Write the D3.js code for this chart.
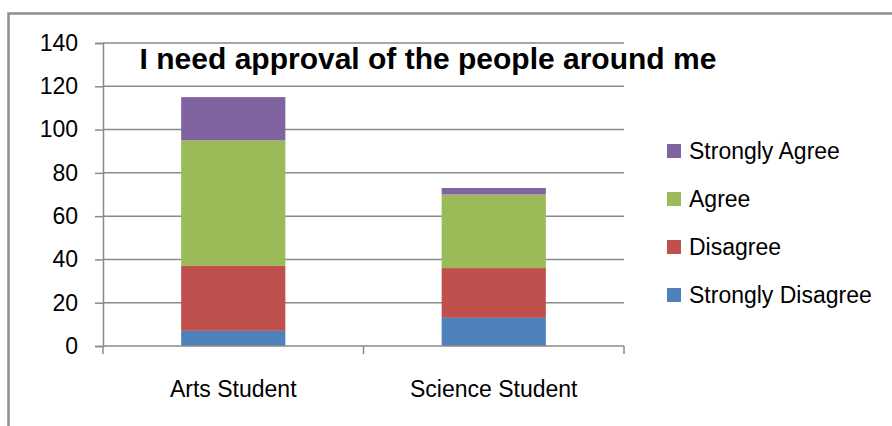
<!DOCTYPE html>
<html>
<head>
<meta charset="utf-8">
<script src="https://cdn.jsdelivr.net/npm/d3@7"></script>
<style>
  body { margin: 0; background: #fff; }
  text { font-family: "Liberation Sans", Arial, sans-serif; fill: #000; }
</style>
</head>
<body>
<svg id="chart" width="892" height="426"></svg>
<script>
// data
var categories = ["Arts Student", "Science Student"];
var seriesNames = ["Strongly Disagree", "Disagree", "Agree", "Strongly Agree"];
var stronglyDisagree = [7, 13];
var disagree = [30, 23];
var agree = [58, 34];
var stronglyAgree = [20, 3];
var yTicks = [0, 20, 40, 60, 80, 100, 120, 140];
var colors = ["#4F81BD", "#C0504D", "#9BBB59", "#8064A2"];

var rows = categories.map(function(c, i) {
  return {
    cat: c,
    "Strongly Disagree": stronglyDisagree[i],
    "Disagree": disagree[i],
    "Agree": agree[i],
    "Strongly Agree": stronglyAgree[i]
  };
});

var svg = d3.select("#chart");
// plot area edges (don't use "top", it's window.top)
var plotL = 103, plotR = 624, plotT = 43, plotB = 346;

// outer frame (runs off the right and bottom edges)
svg.append("rect")
  .attr("x", 8.5).attr("y", 13.5)
  .attr("width", 900).attr("height", 430)
  .attr("fill", "none").attr("stroke", "#8e8e8e").attr("stroke-width", 2.5);

var x = d3.scaleBand().domain(categories).range([plotL, plotR])
  .paddingInner(0.6).paddingOuter(0.3);
var y = d3.scaleLinear().domain([0, 140]).range([plotB, plotT]);

// gridlines
svg.append("g").selectAll("line")
  .data(yTicks.slice(1))
  .enter().append("line")
  .attr("x1", plotL).attr("x2", plotR)
  .attr("y1", function(d) { return y(d); })
  .attr("y2", function(d) { return y(d); })
  .attr("stroke", "#8a8a8a").attr("stroke-width", 1.5);

// stacked bars
var stack = d3.stack().keys(seriesNames);
var layers = stack(rows);

svg.append("g").selectAll("g")
  .data(layers)
  .enter().append("g")
  .attr("fill", function(d, i) { return colors[i]; })
  .selectAll("rect")
  .data(function(d) { return d; })
  .enter().append("rect")
  .attr("x", function(d) { return x(d.data.cat); })
  .attr("width", x.bandwidth())
  .attr("y", function(d) { return y(d[1]); })
  .attr("height", function(d) { return y(d[0]) - y(d[1]); });

// y axis
var yAxis = svg.append("g")
  .attr("transform", "translate(" + plotL + ",0)")
  .call(d3.axisLeft(y).tickValues(yTicks).tickSize(8).tickPadding(17));
yAxis.select(".domain").attr("stroke", "#8a8a8a").attr("stroke-width", 1.5);
yAxis.selectAll(".tick line").attr("stroke", "#8a8a8a").attr("stroke-width", 1.5);
yAxis.selectAll(".tick text")
  .attr("font-size", 23).attr("fill", "#000")
  .style("font-family", "'Liberation Sans', Arial, sans-serif");

// x axis line and boundary ticks
var step = (plotR - plotL) / categories.length;
var bounds = d3.range(categories.length + 1).map(function(i) { return plotL + i * step; });
svg.append("line")
  .attr("x1", plotL).attr("x2", plotR)
  .attr("y1", plotB).attr("y2", plotB)
  .attr("stroke", "#8a8a8a").attr("stroke-width", 1.5);
svg.append("g").selectAll("line")
  .data(bounds)
  .enter().append("line")
  .attr("x1", function(d) { return d; }).attr("x2", function(d) { return d; })
  .attr("y1", plotB).attr("y2", plotB + 8)
  .attr("stroke", "#8a8a8a").attr("stroke-width", 1.5);

svg.append("g").selectAll("text")
  .data(categories)
  .enter().append("text")
  .attr("x", function(d) { return x(d) + x.bandwidth() / 2; })
  .attr("y", 397)
  .attr("text-anchor", "middle")
  .attr("font-size", 23)
  .text(function(d) { return d; });

// title
svg.append("text")
  .attr("x", 428)
  .attr("y", 69)
  .attr("text-anchor", "middle")
  .attr("font-size", 30)
  .attr("font-weight", "bold")
  .text("I need approval of the people around me");

// legend, top entry is the last series
var legendItems = seriesNames.slice().reverse();
var legend = svg.append("g").selectAll("g")
  .data(legendItems)
  .enter().append("g")
  .attr("transform", function(d, i) { return "translate(667," + (151 + i * 48) + ")"; });
legend.append("rect")
  .attr("x", 0).attr("y", -7)
  .attr("width", 14).attr("height", 14)
  .attr("fill", function(d) { return colors[seriesNames.indexOf(d)]; });
legend.append("text")
  .attr("x", 22).attr("y", 8)
  .attr("font-size", 23)
  .text(function(d) { return d; });
</script>
</body>
</html>
